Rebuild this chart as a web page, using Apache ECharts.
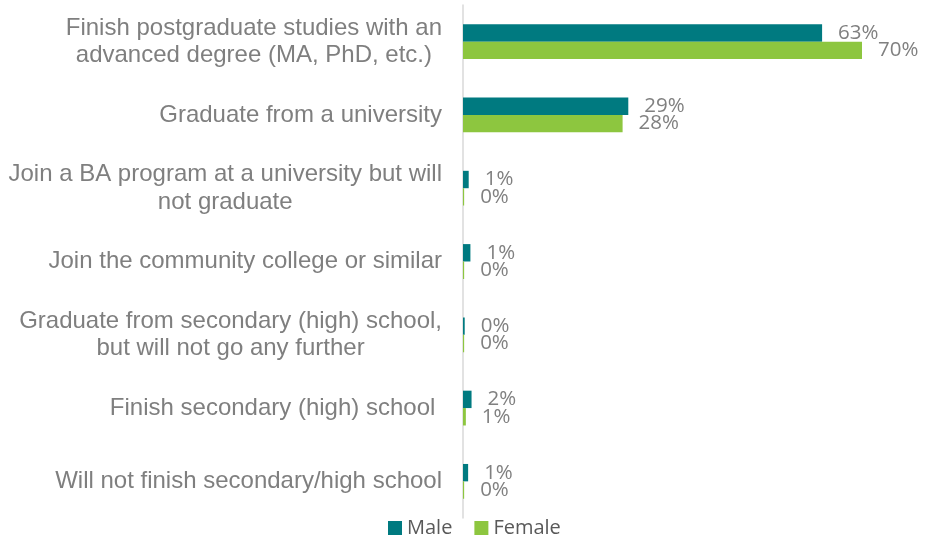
<!DOCTYPE html>
<html>
<head>
<meta charset="utf-8">
<script src="https://cdn.jsdelivr.net/npm/echarts@6/dist/echarts.min.js"></script>
<style>
  html, body { margin: 0; padding: 0; background: #ffffff; }
  #chart { width: 925px; height: 539px; }
</style>
</head>
<body>
<div id="chart"></div>
<script>
// Expected educational attainment, by gender (percent of respondents)
const categories = [
  'Finish postgraduate studies with an\nadvanced degree (MA, PhD, etc.)',
  'Graduate from a university',
  'Join a BA program at a university but will\nnot graduate',
  'Join the community college or similar',
  'Graduate from secondary (high) school,\nbut will not go any further',
  'Finish secondary (high) school ',
  'Will not finish secondary/high school'
];
const maleValues = [63, 29, 1.0, 1.3, 0.3, 1.5, 0.9];
const femaleValues = [70, 28, 0.2, 0.2, 0.2, 0.5, 0.2];
const seriesNames = ['Male', 'Female'];
const seriesColors = ['#007A80', '#8DC63F'];

const chart = echarts.init(document.getElementById('chart'));

const valueLabel = {
  show: true,
  position: 'right',
  distance: 16,
  color: '#808080',
  fontFamily: 'Open Sans',
  fontSize: 20.5,
  formatter: p => Math.round(p.value) + '%'
};

chart.setOption({
  animation: false,
  grid: { left: 463, width: 456, top: 5, height: 513 },
  legend: {
    data: seriesNames,
    left: 388,
    top: 518,
    padding: 0,
    icon: 'rect',
    itemWidth: 14,
    itemHeight: 14,
    itemGap: 22,
    textStyle: { color: '#595959', fontFamily: 'Open Sans', fontSize: 20 }
  },
  xAxis: {
    type: 'value',
    min: 0,
    max: 80,
    show: false
  },
  yAxis: {
    type: 'category',
    data: categories,
    inverse: true,
    axisLine: { show: true, lineStyle: { color: '#D9D9D9', width: 1.5 } },
    axisTick: { show: false },
    axisLabel: {
      margin: 21,
      formatter: v => v.split('\n').map(line => '{c|' + line + '}').join('\n'),
      rich: {
        c: {
          align: 'center',
          color: '#7F7F7F',
          fontFamily: 'Liberation Sans',
          fontSize: 24,
          lineHeight: 27.5
        }
      }
    }
  },
  series: [
    {
      name: seriesNames[0],
      type: 'bar',
      data: maleValues,
      barWidth: 17.4,
      barGap: '0%',
      itemStyle: { color: seriesColors[0] },
      label: valueLabel
    },
    {
      name: seriesNames[1],
      type: 'bar',
      data: femaleValues,
      barWidth: 17.4,
      barGap: '0%',
      itemStyle: { color: seriesColors[1] },
      label: valueLabel
    }
  ]
});
</script>
</body>
</html>
